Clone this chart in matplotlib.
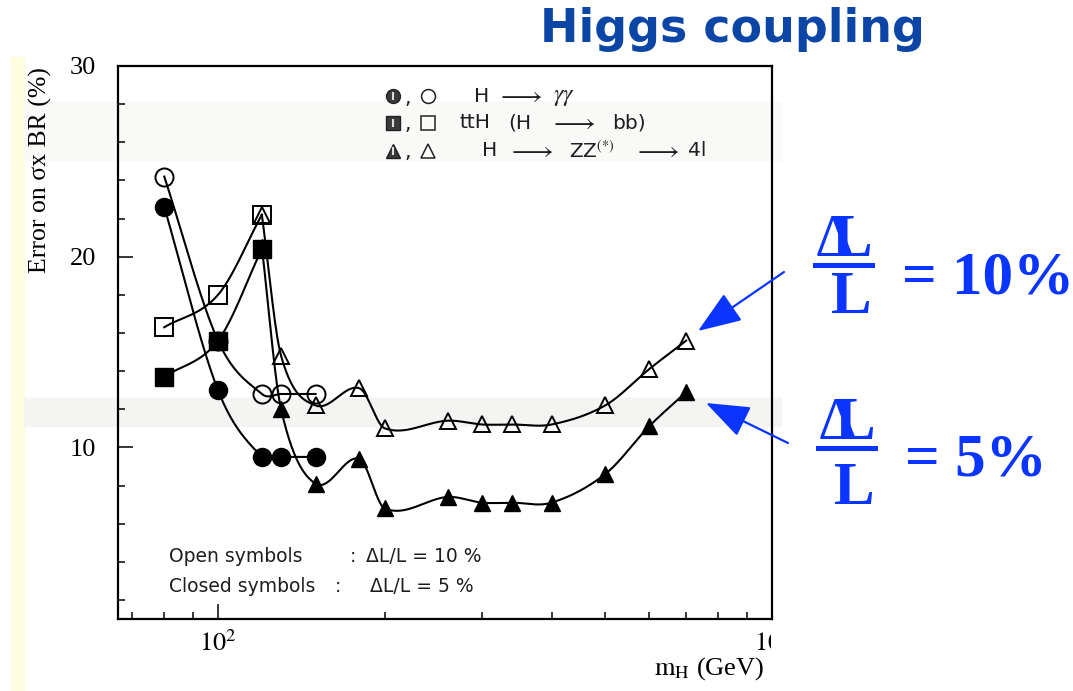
import numpy as np
import matplotlib.pyplot as plt
from matplotlib.patches import Rectangle
from matplotlib.lines import Line2D
from matplotlib.transforms import Bbox, TransformedBbox

plt.rcParams['font.family'] = ['Liberation Serif', 'DejaVu Serif']
plt.rcParams['mathtext.fontset'] = 'stix'

# error on sigma x BR (%) versus Higgs mass (GeV)
mass_gg_open = [80, 100, 120, 130, 150]
err_gg_open = [24.2, 15.6, 12.8, 12.8, 12.8]
mass_gg_closed = [80, 100, 120, 130, 150]
err_gg_closed = [22.6, 13.0, 9.5, 9.5, 9.5]

mass_tth = [80, 100, 120]
err_tth_open = [16.3, 18.0, 22.2]
err_tth_closed = [13.7, 15.6, 20.4]

mass_zz = [120, 130, 150, 180, 200, 260, 300, 340, 400, 500, 600, 700]
err_zz_open = [22.2, 14.8, 12.2, 13.1, 11.0, 11.4, 11.2, 11.2, 11.2, 12.2, 14.1, 15.6]
err_zz_closed = [20.5, 12.0, 8.1, 9.4, 6.8, 7.4, 7.1, 7.1, 7.1, 8.6, 11.1, 12.9]

y_major = [10, 20, 30]
y_minor = [2, 4, 6, 8, 12, 14, 16, 18, 22, 24, 26, 28]
x_minor = [70, 80, 90, 200, 300, 400, 500, 600, 700, 800, 900]

W, H = 1073, 691
BLUE = '#0a34ff'


def smooth(xs, ys, n=40):
    # cubic hermite through the points, in log10(m) so it follows the log axis
    lx = np.log10(np.asarray(xs, float))
    y = np.asarray(ys, float)
    m = np.empty(len(lx))
    m[0] = (y[1] - y[0]) / (lx[1] - lx[0])
    m[-1] = (y[-1] - y[-2]) / (lx[-1] - lx[-2])
    if len(lx) > 2:
        m[1:-1] = (y[2:] - y[:-2]) / (lx[2:] - lx[:-2])
    t = np.linspace(0, 1, n)
    h00 = 2 * t**3 - 3 * t**2 + 1
    h10 = t**3 - 2 * t**2 + t
    h01 = -2 * t**3 + 3 * t**2
    h11 = t**3 - t**2
    sx, sy = [], []
    for i in range(len(lx) - 1):
        h = lx[i + 1] - lx[i]
        sx.append(lx[i] + t * h)
        sy.append(h00 * y[i] + h10 * h * m[i] + h01 * y[i + 1] + h11 * h * m[i + 1])
    return 10 ** np.concatenate(sx), np.concatenate(sy)


def fpos(x, y):
    return x / W, 1 - y / H


fig = plt.figure(figsize=(W / 100, H / 100), dpi=100)

# slide background: pale yellow strip and faint grey bands
fig.add_artist(Rectangle(fpos(11, 691), 13 / W, 634 / H, transform=fig.transFigure,
                         color='#fefde0', zorder=-2))
fig.add_artist(Rectangle(fpos(24, 160), 757 / W, 58 / H, transform=fig.transFigure,
                         color='#f9f9f7', zorder=-2))
fig.add_artist(Rectangle(fpos(24, 426), 757 / W, 28 / H, transform=fig.transFigure,
                         color='#f4f4f2', zorder=-2))

ax = fig.add_axes([118 / W, 1 - 619 / H, 654 / W, 553 / H])
ax.set_facecolor('none')
ax.set_xscale('log')
ax.set_xlim(66, 1000)
ax.set_ylim(1, 30)

line_kw = dict(color='black', lw=1.5, zorder=2)
open_kw = dict(ls='none', mfc='none', mec='black', mew=1.4, zorder=3)
fill_kw = dict(ls='none', mfc='black', mec='black', zorder=4)

for xs, ys in [(mass_gg_open, err_gg_open), (mass_gg_closed, err_gg_closed),
               (mass_tth, err_tth_open), (mass_tth, err_tth_closed),
               (mass_zz, err_zz_open), (mass_zz, err_zz_closed)]:
    ax.plot(*smooth(xs, ys), **line_kw)

ax.plot(mass_gg_open, err_gg_open, marker='o', ms=13, **open_kw)
ax.plot(mass_tth, err_tth_open, marker='s', ms=12.5, **open_kw)
ax.plot(mass_zz, err_zz_open, marker='^', ms=12, **open_kw)
ax.plot(mass_zz, err_zz_closed, marker='^', ms=12, **fill_kw)
ax.plot(mass_gg_closed, err_gg_closed, marker='o', ms=13, **fill_kw)
ax.plot(mass_tth, err_tth_closed, marker='s', ms=12.5, **fill_kw)

for sp in ax.spines.values():
    sp.set_linewidth(1.6)

ax.set_yticks(y_major, labels=[str(v) for v in y_major])
ax.set_yticks(y_minor, minor=True)
ax.set_xticks([100, 1000], labels=[r'$10^{2}$', r'$10^{3}$'])
ax.set_xticks(x_minor, minor=True)
ax.xaxis.set_minor_formatter(plt.NullFormatter())
ax.tick_params(which='both', direction='in', width=1.1, labelsize=19)
ax.tick_params(which='major', length=11)
ax.tick_params(which='minor', length=5)
ax.tick_params(axis='y', pad=16)
ax.tick_params(axis='x', pad=8)

# the right-hand decade label runs off the edge of the frame
clip = TransformedBbox(Bbox.from_extents(0, 0, 771 / W, 1), fig.transFigure)
for lab in ax.get_xticklabels():
    lab.set_clip_box(clip)
    lab.set_clip_on(True)

fig.text(*fpos(764, 669), r'$\mathrm{m_H}$ (GeV)', ha='right', va='center', fontsize=19)
fig.text(*fpos(40, 170), 'Error on σx BR (%)', rotation=90, ha='center', va='center',
         fontsize=18.5)


# symbol key inside the frame
def apos(x, y):
    return (x - 118) / 654, (619 - y) / 553


sans = dict(family=['DejaVu Sans'], fontsize=14.5, color='#1e1e1e', va='center',
            transform=ax.transAxes)
arrow_txt = r'$\longrightarrow$'
rows = [(96, 'o', [(474, 'H'), (497, arrow_txt), (553, r'$\gamma\gamma$')]),
        (123, 's', [(460, 'ttH'), (508, '(H'), (550, arrow_txt), (612, 'bb)')]),
        (151, '^', [(482, 'H'), (508, arrow_txt), (569, r'ZZ$^{(*)}$'),
                    (634, arrow_txt), (688, '4l')])]
for y, mk, pieces in rows:
    ax.plot(*apos(393, y), marker=mk, ms=10, mfc='#3a3a3a', mec='#222222',
            transform=ax.transAxes, clip_on=False)
    ax.plot(*apos(393, y), marker='|', ms=6, mec='#dddddd', mew=1.5,
            transform=ax.transAxes, clip_on=False)
    ax.text(*apos(404, y + 2), ',', **sans)
    ax.plot(*apos(428, y), marker=mk, ms=10, mfc='none', mec='#222222', mew=1.1,
            transform=ax.transAxes, clip_on=False)
    for tx, piece in pieces:
        kw = dict(sans, fontsize=19) if piece == arrow_txt else sans
        if piece.startswith(r'$\gamma'):
            kw = dict(sans, fontsize=17)
        ax.text(*apos(tx, y), piece, **kw)

note = dict(sans, fontsize=13.5)
ax.text(*apos(169, 557), 'Open symbols', **note)
ax.text(*apos(350, 557), ':', **note)
ax.text(*apos(366, 557), 'ΔL/L = 10 %', **note)
ax.text(*apos(169, 586), 'Closed symbols', **note)
ax.text(*apos(335, 586), ':', **note)
ax.text(*apos(370, 586), 'ΔL/L = 5 %', **note)

# title
fig.text(*fpos(540, 29), 'Higgs coupling', family=['DejaVu Sans'], fontweight='bold',
         fontsize=33, color='#0b46a6', ha='left', va='center')

# blue call-outs: ΔL / L fractions with arrows
big = dict(family=['Liberation Serif'], fontsize=44, color=BLUE, va='baseline')
for top, bar, bottom, eq_base, eq_text, dx in [(256, 265, 313, 293, '= 10%', 0),
                                                (439, 448, 504, 476, '= 5%', 3)]:
    fig.text(*fpos(815 + dx, top), 'Δ', ha='left', **big)
    fig.text(*fpos(832 + dx, top), 'L', ha='left', fontweight='bold', **big)
    fig.add_artist(Line2D([(815 + dx) / W, (872 + dx) / W], [1 - bar / H] * 2,
                          transform=fig.transFigure, color=BLUE, lw=3.6))
    fig.text(*fpos(831 + dx, bottom), 'L', ha='left', fontweight='bold', **big)
    fig.text(*fpos(902 + dx, eq_base), eq_text, ha='left', fontweight='bold', **big)

arrow = dict(arrowstyle='-|>,head_length=1.6,head_width=0.6', color=BLUE, lw=1.6,
             mutation_scale=17, shrinkA=0, shrinkB=0)
fig.add_artist(plt.Annotation('', xy=(698, H - 331), xytext=(784, H - 272),
                              xycoords='figure pixels', textcoords='figure pixels',
                              arrowprops=arrow))
fig.add_artist(plt.Annotation('', xy=(706, H - 403), xytext=(788, H - 443),
                              xycoords='figure pixels', textcoords='figure pixels',
                              arrowprops=arrow))

fig.savefig('out.png', dpi=100)
